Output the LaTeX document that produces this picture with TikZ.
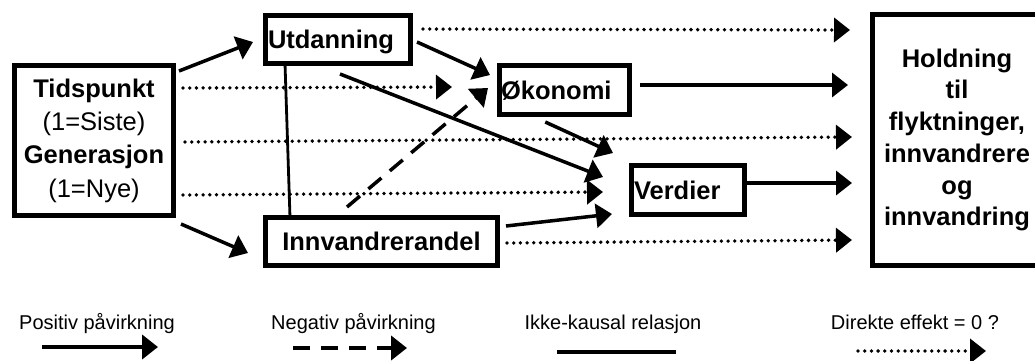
\documentclass[tikz,border=0pt]{standalone}
\usepackage{fontspec}
\setmainfont{Liberation Sans}
\usetikzlibrary{arrows.meta,calc}
\begin{document}
\begin{tikzpicture}[x=1pt,y=-1pt,
  >={Triangle[length=16pt,width=24pt]},
  box/.style={draw,line width=5pt,outer sep=0pt,inner xsep=0pt,inner ysep=0pt,
    font=\bfseries\fontsize{25.5}{33.3}\selectfont},
  onel/.style={text depth=0pt},
  posarrow/.style={line width=3.5pt,->},
  negarrow/.style={line width=3.5pt,->,dash pattern=on 17pt off 11pt},
  dotarrow/.style={line width=3.8pt,->,line cap=round,dash pattern=on 0pt off 6.7pt},
  ncline/.style={line width=2.8pt},
  legtext/.style={font=\fontsize{20}{24}\selectfont,anchor=base,inner sep=0pt}]
\useasboundingbox (0,0) rectangle (1035,360);

% boxes
\node[box,minimum width=159pt,minimum height=150pt,align=center] (tid) at (94,140.5)
  {Tidspunkt\\{\mdseries (1=Siste)}\\Generasjon\\{\mdseries (1=Nye)}};
\node[box,onel,minimum height=48pt,text width=140pt,inner xsep=2.5pt,align=left] (utd) at (338,39.5) {Utdanning};
\node[box,onel,minimum height=48pt,minimum width=232pt] (innv) at (381.5,241.5) {Innvandrerandel};
\node[box,onel,minimum height=49pt,text width=126.5pt,inner xsep=2pt,align=left] (oko) at (564.25,90) {Økonomi};
\node[box,onel,minimum height=49pt,text width=108pt,inner xsep=2.5pt,align=left] (ver) at (688,190) {Verdier};
\node[box,minimum width=170pt,minimum height=251pt,align=center,
  font=\bfseries\fontsize{25.5}{31.7}\selectfont] (hold) at (957,140)
  {Holdning\\til\\flyktninger,\\innvandrere\\og\\innvandring};

% connectors
\draw[posarrow] ($(tid.north east)+(5.5,5.5)$) -- ($(utd.west)+(-12.5,2.5)$);
\draw[posarrow] ($(tid.south east)+(7.5,8.5)$) -- ($(innv.west)+(-17.5,11.5)$);
\draw[dotarrow] ($(tid.east)+(9.5,-52.5)$) -- ($(oko.west)+(-47,-3)$);
\draw[dotarrow] ($(tid.east)+(11.5,1.5)$) -- ($(hold.west)+(-20,-3)$);
\draw[dotarrow] ($(tid.east)+(9.5,54.5)$) -- ($(ver.west)+(-28.5,2)$);
\draw[dotarrow] ($(utd.north east)+(12.5,13.5)$) -- ($(hold.north west)+(-22,15.5)$);
\draw[posarrow] ($(utd.east)+(6.5,2.5)$) -- ($(oko.north west)+(-9,9.5)$);
\draw[posarrow] ($(utd.south)+(2,10.5)$) -- ($(ver.west)+(-28.5,-13)$);
\draw[negarrow] ($(innv.north)+(-34.5,-10.5)$) -- ($(oko.west)+(-11,-2)$);
\draw[ncline] ($(utd.south west)+(19.5,0)$) -- ($(innv.north west)+(24.5,0)$);
\draw[posarrow] ($(oko.east)+(10.5,-5)$) -- ($(hold.west)+(-24,-55)$);
\draw[posarrow] ($(oko.south)+(-19,7.5)$) -- ($(ver.north west)+(-18.5,-12.5)$);
\draw[posarrow] ($(innv.east)+(8.5,-15.5)$) -- ($(ver.south west)+(-19.5,-0.5)$);
\draw[dotarrow] ($(innv.east)+(9.5,1.5)$) -- ($(hold.west)+(-20,100)$);
\draw[posarrow] ($(ver.east)+(2.5,-7)$) -- ($(hold.west)+(-20,43)$);

% legend
\node[legtext] (l1) at (97,329) {Positiv påvirkning};
\node[legtext] (l2) at (353.5,329) {Negativ påvirkning};
\node[legtext] (l3) at (613,329) {Ikke-kausal relasjon};
\node[legtext] (l4) at (915,329) {Direkte effekt = 0 ?};
\draw[posarrow,line width=4pt] ($(l1.base)+(-55,18)$) -- ($(l1.base)+(61,18)$);
\draw[negarrow,line width=4pt] ($(l2.base)+(-60.5,19)$) -- ($(l2.base)+(53.5,19)$);
\draw[line width=4pt] ($(l3.base)+(-56,23)$) -- ($(l3.base)+(63,23)$);
\draw[dotarrow] ($(l4.base)+(-57,22)$) -- ($(l4.base)+(71,22)$);
\end{tikzpicture}
\end{document}
